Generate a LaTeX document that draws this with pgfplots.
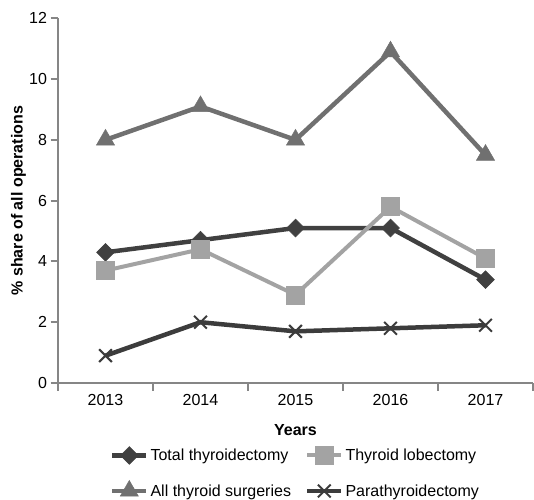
\documentclass[border=0pt]{standalone}
\usepackage{fontspec}
\setmainfont{Liberation Sans}
\usepackage{pgfplots}
\pgfplotsset{compat=1.18}
\definecolor{cTot}{HTML}{404040}
\definecolor{cLob}{HTML}{A3A3A3}
\definecolor{cAll}{HTML}{707070}
\definecolor{cPar}{HTML}{3C3C3C}
\definecolor{axgray}{HTML}{868686}
\begin{document}
\begin{tikzpicture}[font=\fontsize{16}{18.5}\selectfont]
\begin{axis}[
  name=ax, at={(0pt,0pt)}, anchor=south west,
  scale only axis, width=475pt, height=364.7pt,
  xmin=-0.5, xmax=4.5, ymin=0, ymax=12,
  axis lines=left,
  axis line style={-, draw=axgray, line width=2.2pt},
  tick style={draw=axgray, line width=2pt},
  tick align=outside, major tick length=7.5pt,
  ytick={0,2,...,12},
  xtick={-0.5,0.5,...,4.5},
  xticklabels={2013,2014,2015,2016,2017},
  x tick label as interval,
  /pgf/number format/assume math mode=true,
  xlabel={\textbf{Years}},
  ylabel={\textbf{\% share of all operations}},
  xlabel style={at={(axis description cs:0.5,-0.129)}, anchor=center},
  ylabel style={at={(axis description cs:-0.083,0.5)}, anchor=center},
  clip=false,
  legend columns=2,
  legend style={at={(0.5,-0.168)}, anchor=north, draw=none, fill=none,
    /tikz/every even column/.append style={column sep=12pt},
    row sep=16pt},
  legend cell align=left,
  legend image code/.code={\draw[mark repeat=2,mark phase=2] plot coordinates {(0pt,0pt) (17pt,0pt) (34pt,0pt)};},
]
\addplot[cTot, line width=4.5pt, mark=square*, mark size=6.3pt, mark options={rotate=45, line width=0.5pt, fill=cTot}]
  coordinates {(0,4.3) (1,4.7) (2,5.1) (3,5.1) (4,3.4)};
\addlegendentry{Total thyroidectomy}
\addplot[cLob, line width=4pt, mark=square*, mark size=9pt, mark options={line width=0.5pt, fill=cLob}]
  coordinates {(0,3.7) (1,4.4) (2,2.9) (3,5.8) (4,4.1)};
\addlegendentry{Thyroid lobectomy}
\addplot[cAll, line width=4.5pt, mark=triangle*, mark size=10.5pt, mark options={line width=0.5pt, fill=cAll}]
  coordinates {(0,8.0) (1,9.1) (2,8.0) (3,10.9) (4,7.5)};
\addlegendentry{All thyroid surgeries}
\addplot[cPar, line width=4.5pt, mark=x, mark size=9pt, mark options={line width=2pt}]
  coordinates {(0,0.9) (1,2.0) (2,1.7) (3,1.8) (4,1.9)};
\addlegendentry{Parathyroidectomy}
\end{axis}
\pgfresetboundingbox
\path[use as bounding box] (-58pt,-116pt) rectangle (476pt,383pt);
\end{tikzpicture}
\end{document}
